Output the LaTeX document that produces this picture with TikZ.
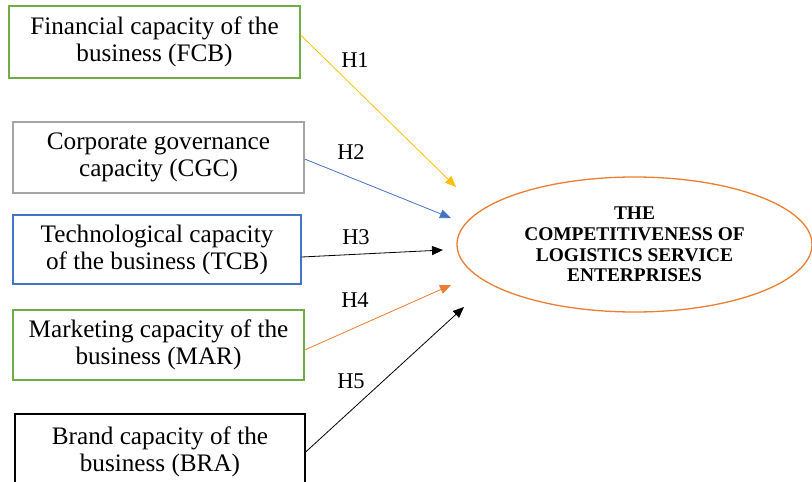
\documentclass[tikz,border=0pt]{standalone}
\usepackage{fontspec}
\setmainfont{Liberation Serif}
\usepackage{tikz}
\usetikzlibrary{arrows.meta}
\usetikzlibrary{positioning}
\usetikzlibrary{shapes.geometric}
\tikzset{>={Triangle[length=11pt,width=9pt]}}
\definecolor{offgreen}{HTML}{70AD47}
\definecolor{offgray}{HTML}{A5A5A5}
\definecolor{offblue}{HTML}{4472C4}
\definecolor{offorange}{HTML}{ED7D31}
\definecolor{offyellow}{HTML}{FFC000}

\begin{document}
\begin{tikzpicture}[x=1pt,y=-1pt,
		factor/.style={draw, line width=1.3pt, align=center, inner sep=0pt, font=\fontsize{25.2}{27}\selectfont},
		outcome/.style={ellipse, draw=offorange, line width=1.3pt, align=center, inner sep=0pt, minimum width=355pt, minimum height=135pt, font=\fontsize{19.4}{20.6}\selectfont\bfseries},
		hyp/.style={font=\fontsize{22.5}{24}\selectfont},
		link/.style={->, line width=0.8pt}]
		\useasboundingbox (0,0) rectangle (812,482);
		\node[factor, draw=offgreen, minimum width=291pt, minimum height=72pt] (fcb) at (154.5,42) {Financial capacity of the\\business (FCB)};
		\node[factor, draw=offgray, minimum width=291pt, minimum height=71pt] (cgc) at (158.5,157.5) {Corporate governance\\capacity (CGC)};
		\node[factor, draw=offblue, minimum width=288pt, minimum height=69pt] (tcb) at (157,249.5) {Technological capacity\\of the business (TCB)};
		\node[factor, draw=offgreen, minimum width=291pt, minimum height=70pt] (mar) at (158.5,345) {Marketing capacity of the\\business (MAR)};
		\node[factor, draw=black, minimum width=290pt, minimum height=76pt] (bra) at (160,452) {Brand capacity of the\\business (BRA)};
		\node[outcome] (cle) at (634.5,244.5) {THE\\COMPETITIVENESS OF\\LOGISTICS SERVICE\\ENTERPRISES};
		% arrow ends
		\coordinate (e1) at (456,187);
		\coordinate (e2) at (451,218);
		\coordinate (e3) at (443,250);
		\coordinate (e4) at (451,285);
		\coordinate (e5) at (464,307);
		\draw[link, offyellow] (fcb.east |- 0,35) -- (e1);
		\draw[link, offblue] (cgc.east |- 0,159) -- (e2);
		\draw[link, black] (tcb.east |- 0,257) -- (e3);
		\draw[link, offorange] (mar.east |- 0,350) -- (e4);
		\draw[link, black] (bra.east |- 0,452) -- (e5);
		\node[hyp] (h1) at (355,60) {H1};
		\node[hyp] (h2) at (351,152) {H2};
		\node[hyp] (h3) at (356,237) {H3};
		\node[hyp] (h4) at (355,300) {H4};
		\node[hyp] (h5) at (351,381) {H5};
	\end{tikzpicture}
\end{document}
